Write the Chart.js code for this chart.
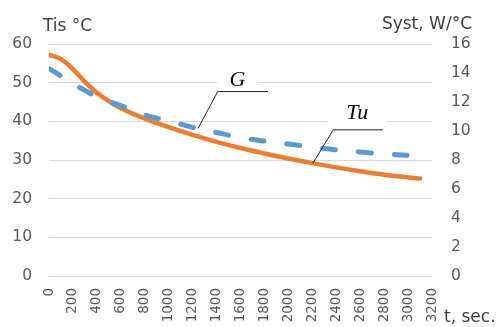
<!DOCTYPE html>
<html>
<head>
<meta charset="utf-8">
<script src="https://cdn.jsdelivr.net/npm/chart.js@4.4.0/dist/chart.umd.min.js"></script>
<style>
  html, body { margin: 0; padding: 0; background: #fff; overflow: hidden; }
  #wrap { width: 499px; height: 327px; position: relative; }
</style>
</head>
<body>
<div id="wrap"><canvas id="chart"></canvas></div>
<script>
// time, sec.
var times = [0, 100, 200, 300, 400, 500, 600, 800, 1000, 1200, 1400, 1600, 1800, 2000, 2200, 2400, 2600, 2800, 3000, 3100];
// Tu, °C (left axis)
var tu = [57.2, 56.1, 53.5, 50.2, 47.4, 45.2, 43.4, 40.7, 38.5, 36.5, 34.7, 33.1, 31.7, 30.4, 29.2, 28.1, 27.1, 26.2, 25.5, 25.2];
// G, W/°C (right axis)
var g = [14.3, 13.8, 13.25, 12.8, 12.35, 12.05, 11.75, 11.1, 10.7, 10.25, 9.9, 9.55, 9.3, 9.1, 8.9, 8.7, 8.55, 8.42, 8.32, 8.25];

// callout labels: text, label position (t, °C), elbow (t, °C), end of horizontal arm (t), pointed time
var callouts = [
  { text: "G", t: 1575, v: 50.6, boxW: 41, elbowT: 1410, elbowV: 47.7, armT: 1830, pointT: 1245, series: "g" },
  { text: "Tu", t: 2575, v: 42.2, boxW: 60, elbowT: 2375, elbowV: 37.8, armT: 2790, pointT: 2205, series: "tu" }
];

function toPoints(xs, ys) {
  return xs.map(function (x, i) {
    return { x: x, y: ys[i] };
  });
}

function valueAt(xs, ys, t) {
  for (var i = 1; i < xs.length; i++) {
    if (t <= xs[i]) {
      var f = (t - xs[i - 1]) / (xs[i] - xs[i - 1]);
      return ys[i - 1] + f * (ys[i] - ys[i - 1]);
    }
  }
  return ys[ys.length - 1];
}

var tickFont = { family: "DejaVu Sans", size: 15.5 };

var labelsPlugin = {
  id: "labels",
  afterDraw: function (c) {
    var ctx = c.ctx;
    var x = c.scales.x, y = c.scales.y, y1 = c.scales.y1;
    ctx.save();

    // axis titles
    ctx.fillStyle = "#404040";
    ctx.font = "17px 'DejaVu Sans'";
    ctx.textBaseline = "alphabetic";
    ctx.textAlign = "left";
    ctx.fillText("Tis °C", c.chartArea.left - 6, c.chartArea.top - 13);
    ctx.textAlign = "right";
    ctx.fillText("Syst, W/°C", c.width - 27, c.chartArea.top - 15);
    ctx.textAlign = "left";
    ctx.fillText("t, sec.", c.chartArea.right + 12, c.height - 5);

    // callouts
    callouts.forEach(function (a) {
      var px = x.getPixelForValue(a.t);
      var py = y.getPixelForValue(a.v);
      ctx.fillStyle = "#fff";
      ctx.fillRect(px - a.boxW / 2, py - 11, a.boxW, 22);

      ctx.fillStyle = "#000";
      ctx.font = "italic 22px 'Liberation Serif'";
      ctx.textAlign = "center";
      ctx.textBaseline = "middle";
      ctx.fillText(a.text, px, py);

      var ex = x.getPixelForValue(a.elbowT);
      var ey = y.getPixelForValue(a.elbowV);
      var ax = x.getPixelForValue(a.armT);
      var tx = x.getPixelForValue(a.pointT);
      var ty = a.series === "g"
        ? y1.getPixelForValue(valueAt(times, g, a.pointT))
        : y.getPixelForValue(valueAt(times, tu, a.pointT));
      ctx.strokeStyle = "#222";
      ctx.lineWidth = 1;
      ctx.beginPath();
      ctx.moveTo(ax, ey);
      ctx.lineTo(ex, ey);
      ctx.lineTo(tx, ty);
      ctx.stroke();
    });
    ctx.restore();
  }
};

var chart = document.getElementById("chart");

var config = {
  type: "line",
  data: {
    datasets: [
      {
        label: "G",
        data: toPoints(times, g),
        yAxisID: "y1",
        borderColor: "#5B9BD5",
        borderWidth: 5,
        borderDash: [13, 23],
        borderCapStyle: "round",
        pointRadius: 0,
        tension: 0.4,
        order: 0
      },
      {
        label: "Tu",
        data: toPoints(times, tu),
        yAxisID: "y",
        borderColor: "#ED7D31",
        borderWidth: 4.5,
        borderCapStyle: "round",
        pointRadius: 0,
        tension: 0.4,
        order: 1
      }
    ]
  },
  options: {
    responsive: true,
    maintainAspectRatio: false,
    animation: false,
    events: [],
    layout: { padding: { top: 44, left: 0, right: 0, bottom: 0 } },
    plugins: {
      legend: { display: false },
      tooltip: { enabled: false }
    },
    scales: {
      x: {
        type: "linear",
        min: 0,
        max: 3200,
        border: { display: false },
        grid: { display: false, drawTicks: false },
        ticks: {
          stepSize: 200,
          autoSkip: false,
          minRotation: 90,
          maxRotation: 90,
          padding: 12,
          color: "#595959",
          font: { family: "DejaVu Sans", size: 13.5 },
          callback: function (value) {
            return String(value);
          }
        },
        afterFit: function (scale) {
          scale.height = 51;
        }
      },
      y: {
        position: "left",
        min: 0,
        max: 60,
        border: { display: false },
        grid: { color: "#d9d9d9", lineWidth: 1, drawTicks: false },
        ticks: { stepSize: 10, padding: 17, color: "#595959", font: tickFont },
        afterFit: function (scale) {
          scale.width = 49;
        }
      },
      y1: {
        position: "right",
        min: 0,
        max: 16,
        border: { display: false },
        grid: { display: false, drawTicks: false },
        ticks: { stepSize: 2, padding: 19, color: "#595959", font: tickFont },
        afterFit: function (scale) {
          scale.width = 67;
        }
      }
    }
  },
  plugins: [labelsPlugin]
};

new Chart(chart, config);
</script>
</body>
</html>
